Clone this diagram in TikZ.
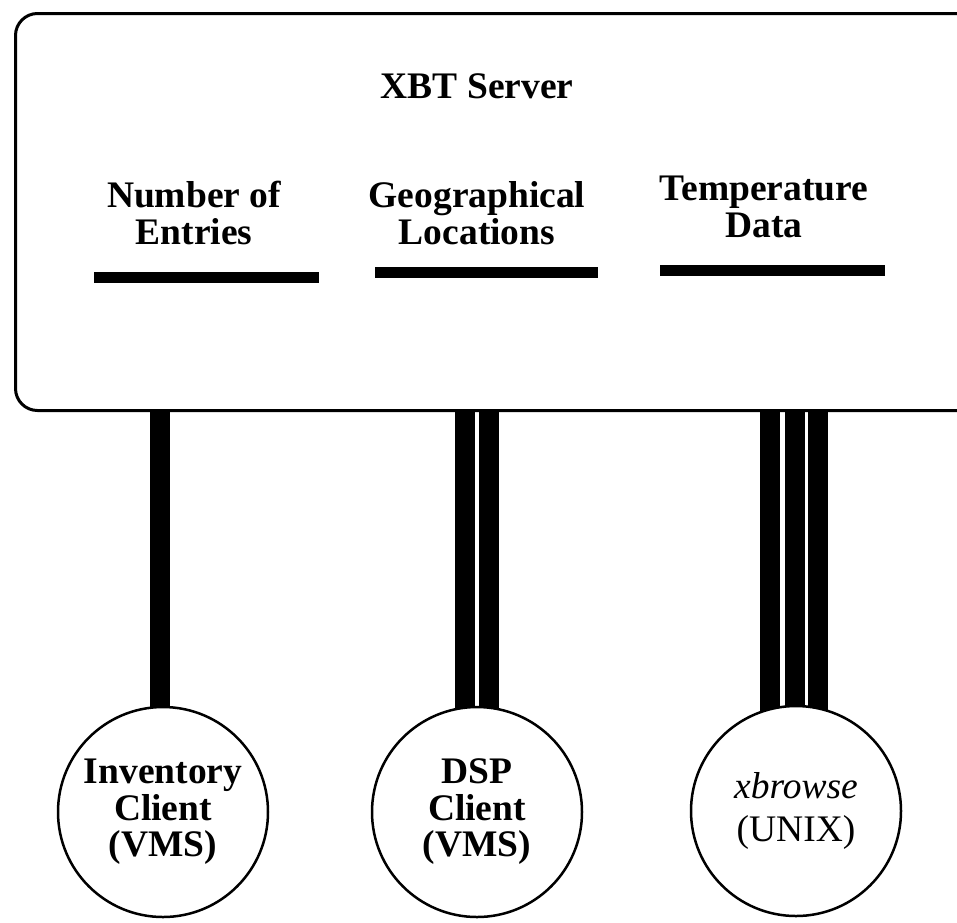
\documentclass[tikz,border=0pt]{standalone}
\usepackage{fontspec}
\setmainfont{Liberation Serif}
\usetikzlibrary{backgrounds}

\newcommand{\bigfont}{\fontsize{37.5}{36.5}\selectfont}

\tikzset{
    srvbox/.style={draw, line width=3pt, rounded corners=22pt, inner sep=0pt},
    topic/.style={font=\bigfont\bfseries, align=center, inner sep=0pt},
    topicbar/.style={line width=11pt},
    client/.style={draw, circle, fill=white, line width=2.5pt, minimum size=210pt,
        inner sep=0pt, align=center, font=\bigfont\bfseries},
    wire/.style={line width=20pt}
}

\begin{document}
\begin{tikzpicture}[x=1pt, y=-1pt]
        \useasboundingbox (0,0) rectangle (957,922);
        % server box, running off the right edge
        \node[srvbox, minimum width=966pt, minimum height=397pt, anchor=north west] (srv) at (14,12) {};
        \node[topic] (title) at (477,86) {XBT Server};
        \node[topic] (nent) at (194,213) {Number of\\Entries};
        \node[topic] (geo) at (477,213) {Geographical\\Locations};
        \node[topic] (temp) at (764,207) {Temperature\\Data};
        \draw[topicbar] (94,277) -- (319,277);
        \draw[topicbar] (375,272) -- (598,272);
        \draw[topicbar] (660,270) -- (885,270);
        % clients
        \node[client] (inv) at (163,812) {Inventory\\Client\\(VMS)};
        \node[client] (dsp) at (477,812) {DSP\\Client\\(VMS)};
        \node[client, font=\bigfont\mdseries] (xbr) at (796,811) {\textit{xbrowse}\\[6pt](UNIX)};
        % one wire per data set
        \begin{scope}[on background layer]
            \draw[wire] ([xshift=-3pt]inv.center) -- ([xshift=-3pt]inv.center |- srv.south);
            \foreach \dx in {-12,12} {
                \draw[wire] ([xshift=\dx pt]dsp.center) -- ([xshift=\dx pt]dsp.center |- srv.south);
            }
            \foreach \dx in {-26,-1.5,22} {
                \draw[wire] ([xshift=\dx pt]xbr.center) -- ([xshift=\dx pt]xbr.center |- srv.south);
            }
        \end{scope}
    \end{tikzpicture}
\end{document}
